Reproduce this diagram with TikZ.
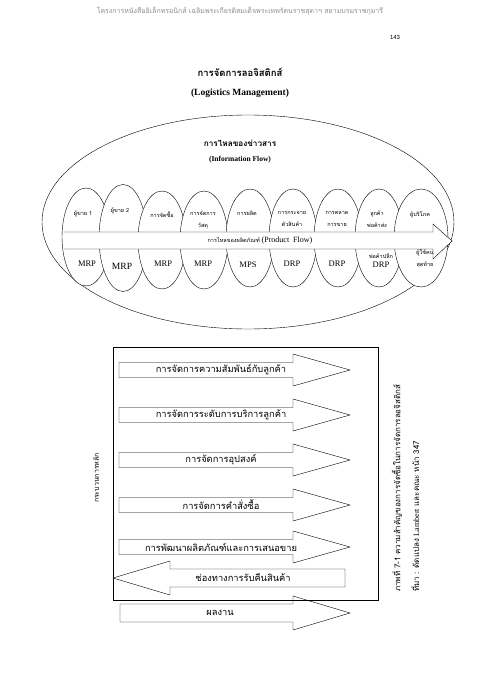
\documentclass[tikz,border=0pt]{standalone}
\usepackage{fontspec}
\setmainfont{Liberation Serif}
\setsansfont{Liberation Sans}
\newfontfamily\thai[Script=Thai]{Loma}
\usetikzlibrary{shapes,positioning}

\begin{document}
\begin{tikzpicture}[x=1pt,y=-1pt,node distance=2pt]
  \tikzstyle{petal}=[ellipse,draw,fill=white,minimum width=48pt,minimum height=98pt,inner sep=0pt]
  \tikzstyle{tag}=[font=\thai\fontsize{5.5}{12}\selectfont,align=center,inner sep=0pt]
  \tikzstyle{plan}=[font=\fontsize{8.5}{10}\selectfont,inner sep=0pt]
  \tikzstyle{process}=[font=\thai\fontsize{9.3}{10}\selectfont,inner sep=0pt]
  \tikzstyle{block}=[draw,fill=white]

  \useasboundingbox (0,0) rectangle (480,679);

  % page head
  \node[font=\thai\fontsize{7}{8}\selectfont,text=black!45] (head) at (240,11)
    {โครงการหนังสืออิเล็กทรอนิกส์ เฉลิมพระเกียรติสมเด็จพระเทพรัตนราชสุดาฯ สยามบรมราชกุมารี};
  \node[font=\sffamily\fontsize{6}{7}\selectfont] (page) at (395,37) {143};
  \node[font=\thai\bfseries\fontsize{9.5}{11}\selectfont] (title) at (240,72) {การจัดการลอจิสติกส์};
  \node[font=\bfseries\fontsize{9.5}{11}\selectfont] (subtitle) at (240,93) {(Logistics Management)};

  % information flow
  \node[ellipse,draw,minimum width=412pt,minimum height=214pt] (info) at (248,222) {};
  \node[font=\thai\bfseries\fontsize{8.2}{9}\selectfont] (infoth) at (240,143) {การไหลของข่าวสาร};
  \node[font=\bfseries\fontsize{7.5}{9}\selectfont] (infoen) at (240,160) {(Information Flow)};

  \node[petal] (p1) at (86,237) {};
  \node[petal,minimum height=107pt] (p2) at (123,238) {};
  \node[petal] (p3) at (162,240) {};
  \node[petal] (p4) at (204,240) {};
  \node[petal] (p5) at (250,238) {};
  \node[petal] (p6) at (293,238) {};
  \node[petal] (p7) at (338,238) {};
  \node[petal] (p8) at (379,238) {};
  \node[petal,minimum width=54pt] (p9) at (421,238) {};

  % product flow
  \draw[fill=white,draw=none] (64,232) -- (433,232) -- (433,224) -- (452,241) -- (433,259) -- (433,249) -- (64,249) -- cycle;
  \draw (64,232) -- (433,232) -- (433,224) -- (452,241) -- (433,259) -- (433,249) -- (64,249);
  \node[inner sep=0pt] (pflow) at (260,241)
    {{\thai\fontsize{5.5}{7}\selectfont การไหลของผลิตภัณฑ์}\,{\fontsize{8}{10}\selectfont (Product~~Flow)}};

  \node[tag,anchor=north] (t1) at (83,211) {ผู้ขาย 1};
  \node[tag,anchor=north] (t2) at (120,208) {ผู้ขาย 2};
  \node[tag,anchor=north] (t3) at (162,211) {การจัดซื้อ};
  \node[tag,anchor=north] (t4) at (203,211) {การจัดการ\\วัสดุ};
  \node[tag,anchor=north] (t5) at (247,211) {การผลิต};
  \node[tag,anchor=north] (t6) at (292,211) {การกระจาย\\ตัวสินค้า};
  \node[tag,anchor=north] (t7) at (337,211) {การตลาด\\การขาย};
  \node[tag,anchor=north] (t8) at (377,211) {ลูกค้า\\พ่อค้าส่ง};
  \node[tag,anchor=north] (t9) at (420,211) {ผู้บริโภค};

  \node[plan] (m1) at (87,264) {MRP};
  \node[plan,font=\fontsize{9.5}{11}\selectfont] (m2) at (122,266) {MRP};
  \node[plan] (m3) at (163,264) {MRP};
  \node[plan] (m4) at (203,264) {MRP};
  \node[plan] (m5) at (248,265) {MPS};
  \node[plan] (m6) at (292,264) {DRP};
  \node[plan] (m7) at (337,264) {DRP};
  \node[plan] (m8) at (381,265) {DRP};
  \node[tag,above=3pt of m8] (shop) {พ่อค้าปลีก};
  \node[tag] (user) at (425,259) {ผู้ใช้คน\\สุดท้าย};

  % key processes
  \node[draw,anchor=north west,minimum width=265pt,minimum height=253pt,inner sep=0pt] (core) at (113,347) {};
  \node[font=\thai\fontsize{7}{8}\selectfont,rotate=90] (corename) at (96,478) {กระบวนการหลัก};

  \draw[block] (119,362.5) -- ++(174,0) -- ++(0,-8.5) -- ++(57,16) -- ++(-57,16) -- ++(0,-8.5) -- ++(-174,0) -- cycle;
  \draw[block] (119,407.5) -- ++(174,0) -- ++(0,-8.5) -- ++(57,16) -- ++(-57,16) -- ++(0,-8.5) -- ++(-174,0) -- cycle;
  \draw[block] (119,452.5) -- ++(174,0) -- ++(0,-8.5) -- ++(57,16) -- ++(-57,16) -- ++(0,-8.5) -- ++(-174,0) -- cycle;
  \draw[block] (119,497.5) -- ++(174,0) -- ++(0,-8.5) -- ++(57,16) -- ++(-57,16) -- ++(0,-8.5) -- ++(-174,0) -- cycle;
  \draw[block] (119,539.5) -- ++(174,0) -- ++(0,-8.5) -- ++(57,16) -- ++(-57,16) -- ++(0,-8.5) -- ++(-174,0) -- cycle;
  \draw[block] (345,569) -- (170,569) -- (170,561) -- (113,578) -- (170,595) -- (170,587) -- (345,587) -- cycle;
  \draw (120,604) -- (293,604) -- (293,596) -- (350,613) -- (293,630) -- (293,622) -- (120,622) -- cycle;

  \node[process] (crm) at (221,370) {การจัดการความสัมพันธ์กับลูกค้า};
  \node[process] (csm) at (221,415) {การจัดการระดับการบริการลูกค้า};
  \node[process] (dem) at (221,460) {การจัดการอุปสงค์};
  \node[process] (ord) at (221,505) {การจัดการคำสั่งซื้อ};
  \node[process] (pdev) at (221,547) {การพัฒนาผลิตภัณฑ์และการเสนอขาย};
  \node[process] (ret) at (243,578) {ช่องทางการรับคืนสินค้า};
  \node[process] (perf) at (220,613) {ผลงาน};

  % caption
  \node[font=\thai\fontsize{8}{9}\selectfont,rotate=90,anchor=west,inner sep=0pt] (cap) at (397,592)
    {ภาพที่ 7-1 ความสำคัญของการจัดซื้อในการจัดการลอจิสติกส์};
  \node[font=\thai\fontsize{8}{9}\selectfont,rotate=90,anchor=west,inner sep=0pt] (src) at (415,592)
    {ที่มา : ดัดแปลง {\rmfamily Lambert} และคณะ หน้า 347};
\end{tikzpicture}
\end{document}
